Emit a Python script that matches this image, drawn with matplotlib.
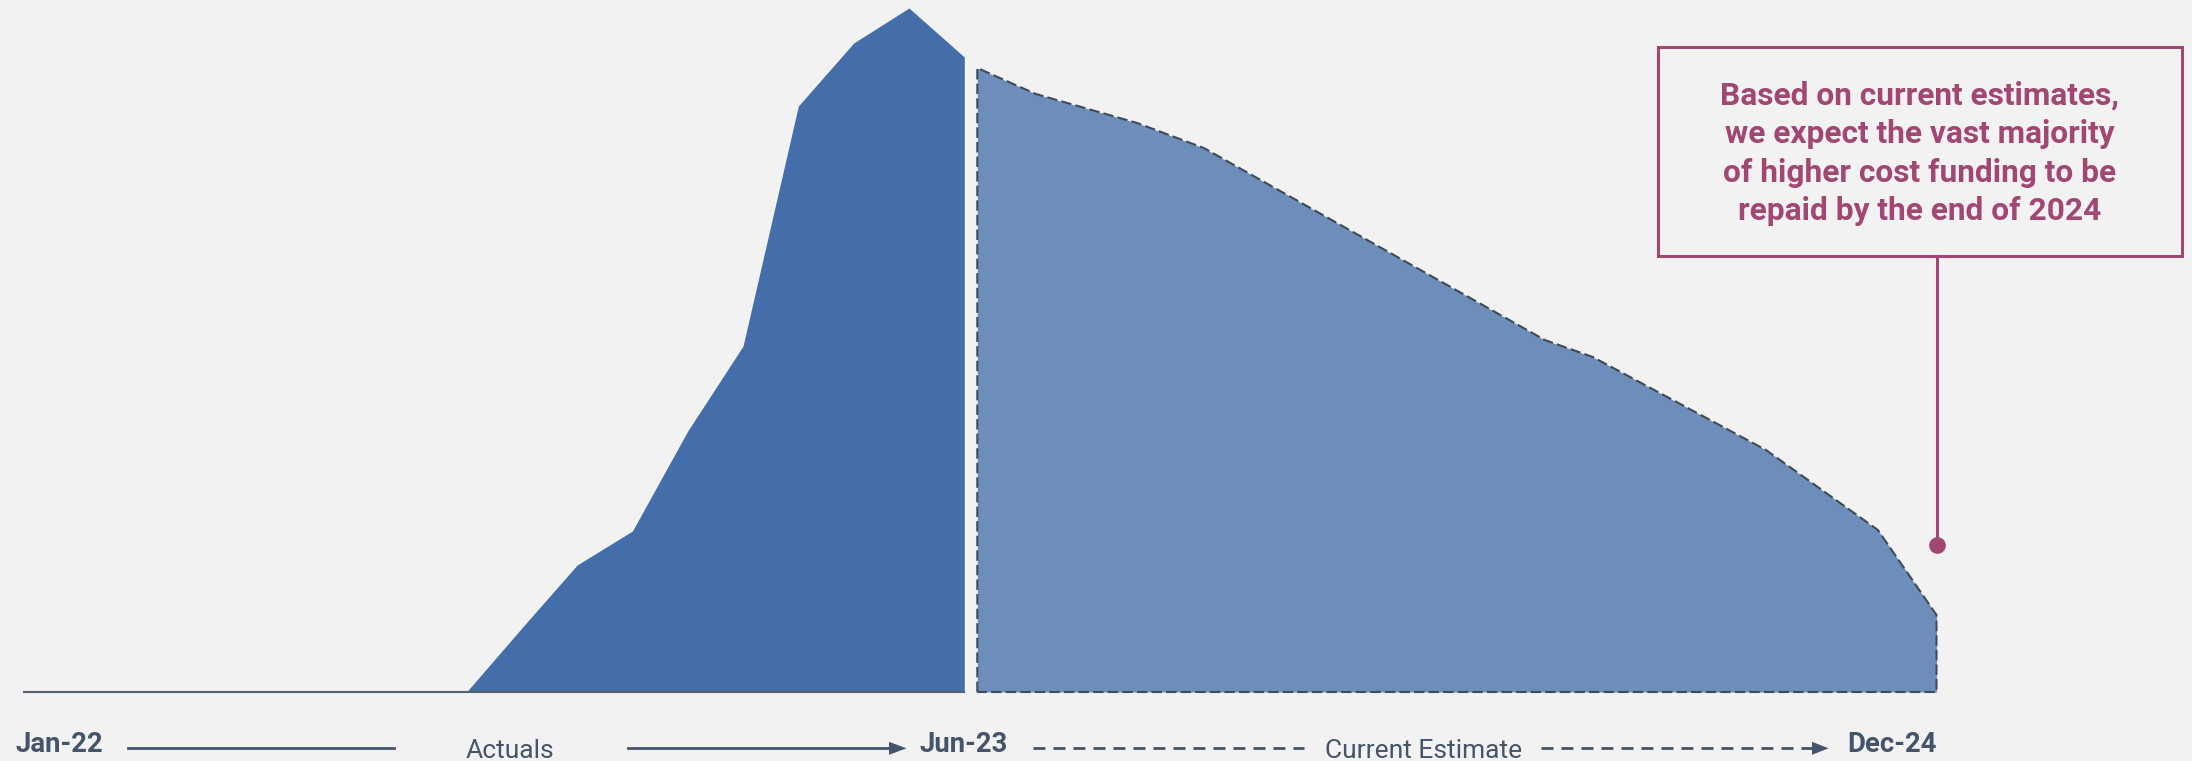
import numpy as np
import matplotlib
matplotlib.use("Agg")
import matplotlib.pyplot as plt
from matplotlib.patches import Rectangle

# ---- data -------------------------------------------------------------
# Actual balance of higher cost funding, monthly Jan-22 .. Jun-23
actual_months = np.arange(18)                      # 0 = Jan-22, 17 = Jun-23
actual_values = [0, 0, 0, 0, 0, 0, 0, 0, 0,
                 6.4, 12.7, 16.1, 26.1, 34.6, 58.6, 64.9, 68.4, 63.5]

# Projected run-off, months after Jun-23 (18 = Dec-24)
estimate_months = [0.0, 1.1, 3.0, 4.25, 10.65, 11.55, 14.8, 16.9, 18.0]
estimate_values = [62.4, 59.8, 56.9, 54.4, 35.2, 33.5, 24.2, 16.2, 7.7]

period_labels = ["Jan-22", "Jun-23", "Dec-24"]
segment_labels = ["Actuals", "Current Estimate"]
note_lines = ["Based on current estimates,",
              "we expect the vast majority",
              "of higher cost funding to be",
              "repaid by the end of 2024"]
note_marker_value = 14.75

# ---- style ------------------------------------------------------------
BG = "#F2F2F2"
ACTUAL = "#436EA9"
ESTIMATE = "#6D8DBA"
OUTLINE = "#3E4C59"
LABEL = "#44546A"
NOTE = "#A14773"
plt.rcParams["font.family"] = ["Roboto", "DejaVu Sans"]

W, H = 2192, 761
fig = plt.figure(figsize=(W / 100, H / 100), dpi=100, facecolor=BG)


def fx(x):
    return x / W


def fy(y):
    return 1 - y / H


base_y = 692
ymax = base_y / 10.0

# actuals panel
ax1 = fig.add_axes([fx(24), fy(base_y), fx(964.3 - 24), base_y / H])
ax1.set_xlim(0, 17)
ax1.set_ylim(0, ymax)
ax1.axis("off")
ax1.fill_between(actual_months, actual_values, 0, color=ACTUAL, lw=0, zorder=2)
ax1.plot([0, 17], [0, 0], color="#56626E", lw=1.5, clip_on=False, zorder=3)

# estimate panel
ax2 = fig.add_axes([fx(977.3), fy(base_y), fx(1936.5 - 977.3), base_y / H])
ax2.set_xlim(0, 18)
ax2.set_ylim(0, ymax)
ax2.axis("off")
ax2.fill_between(estimate_months, estimate_values, 0, color=ESTIMATE, lw=0, zorder=2)
ox = np.r_[estimate_months[0], estimate_months, estimate_months[-1], estimate_months[0]]
oy = np.r_[0, estimate_values, 0, 0]
ax2.plot(ox, oy, color=OUTLINE, lw=1.5, dashes=(5, 2), clip_on=False, zorder=3)

# callout
ax2.plot([18, 18], [note_marker_value, (base_y - 256) / 10.0], color=NOTE, lw=2.2,
         clip_on=False, zorder=4)
ax2.plot([18], [note_marker_value], "o", color=NOTE, ms=11, clip_on=False, zorder=5)
fig.patches.append(Rectangle((fx(1657.6), fy(256)), fx(2182 - 1657.6), (256 - 47.3) / H,
                             transform=fig.transFigure, fill=False, ec=NOTE, lw=2.2))
for i, line in enumerate(note_lines):
    fig.text(fx(1919.8), fy(105 + i * 38.3), line, ha="center", va="baseline",
             fontsize=22.8, fontweight="bold", color=NOTE)

# timeline along the bottom
lab_base = 751.7
mid_base = 758.3
line_y = 748.3
fig.text(fx(16), fy(lab_base), period_labels[0], ha="left", va="baseline",
         fontsize=19.8, fontweight="bold", color=LABEL)
fig.text(fx(920), fy(lab_base), period_labels[1], ha="left", va="baseline",
         fontsize=19.8, fontweight="bold", color=LABEL)
fig.text(fx(1936.6), fy(lab_base), period_labels[2], ha="right", va="baseline",
         fontsize=19.8, fontweight="bold", color=LABEL)
fig.text(fx(510), fy(mid_base), segment_labels[0], ha="center", va="baseline",
         fontsize=19, color=LABEL)
fig.text(fx(1424), fy(mid_base), segment_labels[1], ha="center", va="baseline",
         fontsize=19, color=LABEL)

tl = fig.add_axes([0, 0, 1, 1], facecolor="none")
tl.set_xlim(0, W)
tl.set_ylim(H, 0)
tl.axis("off")
tl.plot([128, 394], [line_y, line_y], color=LABEL, lw=2)
tl.plot([627.8, 895], [line_y, line_y], color=LABEL, lw=2)
tl.fill([889, 906.5, 889], [line_y - 6.5, line_y, line_y + 6.5], color=LABEL, lw=0)
tl.plot([1032.7, 1304], [line_y, line_y], color=LABEL, lw=2, dashes=(4.3, 2.9))
tl.plot([1541, 1815], [line_y, line_y], color=LABEL, lw=2, dashes=(4.3, 2.9))
tl.fill([1812, 1828.6, 1812], [line_y - 6.5, line_y, line_y + 6.5], color=LABEL, lw=0)

fig.savefig("out.png", dpi=100, facecolor=BG)
